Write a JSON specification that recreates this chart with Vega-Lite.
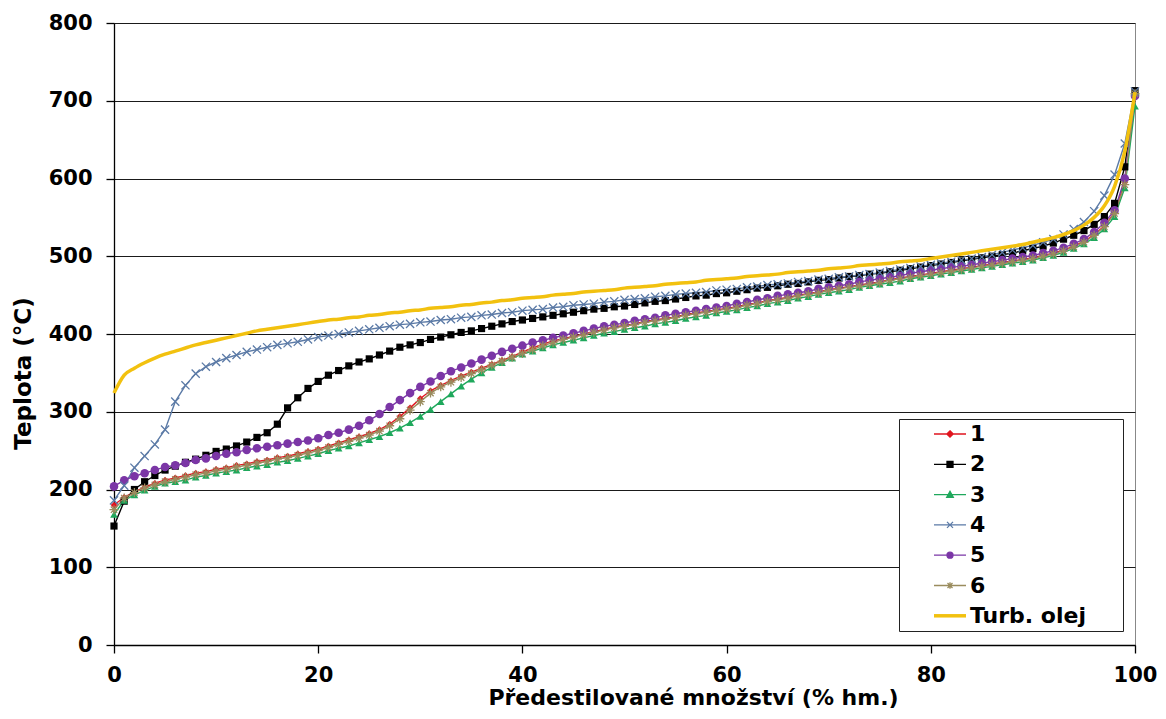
{
"$schema": "https://vega.github.io/schema/vega-lite/v6.json",
"width": 1021,
"height": 622,
"autosize": {"type": "none"},
"padding": {"left": 114, "top": 23, "right": 31, "bottom": 74},
"background": "#ffffff",
"data": {"values": [
{"x":0,"1":180,"2":153,"3":168,"4":186,"5":204,"6":174,"T":324},
{"x":1,"1":190,"2":185,"3":186,"4":205,"5":212,"6":189,"T":347},
{"x":2,"1":197,"2":200,"3":193,"4":228,"5":217,"6":196,"T":356},
{"x":3,"1":203,"2":210,"3":199,"4":243,"5":221,"6":202,"T":363},
{"x":4,"1":208,"2":218,"3":204,"4":258,"5":225,"6":206,"T":369},
{"x":5,"1":212,"2":225,"3":208,"4":277,"5":229,"6":210,"T":374},
{"x":6,"1":215,"2":230,"3":210,"4":313,"5":231,"6":213,"T":378},
{"x":7,"1":218,"2":235,"3":212,"4":334,"5":234,"6":216,"T":382},
{"x":8,"1":221,"2":239,"3":216,"4":349,"5":238,"6":219,"T":386},
{"x":9,"1":223,"2":244,"3":218,"4":358,"5":240,"6":221,"T":389},
{"x":10,"1":226,"2":249,"3":221,"4":364,"5":243,"6":224,"T":392},
{"x":11,"1":228,"2":252,"3":223,"4":369,"5":246,"6":226,"T":395},
{"x":12,"1":231,"2":256,"3":225,"4":373,"5":248,"6":229,"T":398},
{"x":13,"1":233,"2":261,"3":228,"4":377,"5":251,"6":231,"T":401},
{"x":14,"1":236,"2":267,"3":230,"4":380,"5":253,"6":234,"T":404},
{"x":15,"1":238,"2":273,"3":232,"4":383,"5":255,"6":236,"T":406},
{"x":16,"1":241,"2":284,"3":235,"4":386,"5":257,"6":239,"T":408},
{"x":17,"1":243,"2":305,"3":237,"4":388,"5":259,"6":241,"T":410},
{"x":18,"1":246,"2":318,"3":240,"4":390,"5":261,"6":244,"T":412},
{"x":19,"1":249,"2":330,"3":243,"4":393,"5":263,"6":247,"T":414},
{"x":20,"1":252,"2":339,"3":246,"4":396,"5":266,"6":250,"T":416},
{"x":21,"1":256,"2":347,"3":250,"4":398,"5":270,"6":254,"T":418},
{"x":22,"1":260,"2":353,"3":253,"4":400,"5":273,"6":258,"T":419},
{"x":23,"1":264,"2":359,"3":256,"4":402,"5":277,"6":262,"T":421},
{"x":24,"1":268,"2":364,"3":260,"4":404,"5":282,"6":266,"T":422},
{"x":25,"1":272,"2":368,"3":264,"4":406,"5":289,"6":270,"T":424},
{"x":26,"1":277,"2":373,"3":268,"4":408,"5":297,"6":275,"T":425},
{"x":27,"1":284,"2":378,"3":273,"4":410,"5":306,"6":282,"T":427},
{"x":28,"1":294,"2":383,"3":279,"4":412,"5":315,"6":291,"T":428},
{"x":29,"1":305,"2":386,"3":286,"4":413,"5":324,"6":302,"T":430},
{"x":30,"1":317,"2":389,"3":294,"4":415,"5":332,"6":313,"T":431},
{"x":31,"1":327,"2":393,"3":303,"4":416,"5":339,"6":324,"T":433},
{"x":32,"1":334,"2":396,"3":313,"4":418,"5":346,"6":332,"T":434},
{"x":33,"1":340,"2":399,"3":323,"4":419,"5":352,"6":338,"T":435},
{"x":34,"1":346,"2":402,"3":333,"4":421,"5":357,"6":344,"T":437},
{"x":35,"1":351,"2":404,"3":342,"4":422,"5":362,"6":349,"T":438},
{"x":36,"1":356,"2":407,"3":350,"4":424,"5":367,"6":354,"T":440},
{"x":37,"1":361,"2":410,"3":357,"4":425,"5":372,"6":360,"T":441},
{"x":38,"1":366,"2":413,"3":363,"4":427,"5":377,"6":365,"T":443},
{"x":39,"1":371,"2":416,"3":369,"4":428,"5":381,"6":370,"T":444},
{"x":40,"1":377,"2":418,"3":374,"4":430,"5":385,"6":375,"T":446},
{"x":41,"1":382,"2":420,"3":378,"4":431,"5":389,"6":380,"T":447},
{"x":42,"1":387,"2":422,"3":382,"4":432,"5":392,"6":385,"T":448},
{"x":43,"1":391,"2":424,"3":386,"4":434,"5":395,"6":389,"T":450},
{"x":44,"1":394,"2":426,"3":389,"4":435,"5":398,"6":393,"T":451},
{"x":45,"1":397,"2":428,"3":392,"4":437,"5":401,"6":396,"T":452},
{"x":46,"1":400,"2":430,"3":395,"4":438,"5":404,"6":399,"T":454},
{"x":47,"1":403,"2":432,"3":398,"4":439,"5":407,"6":402,"T":455},
{"x":48,"1":406,"2":433,"3":401,"4":441,"5":410,"6":405,"T":456},
{"x":49,"1":409,"2":435,"3":403,"4":442,"5":412,"6":408,"T":457},
{"x":50,"1":411,"2":436,"3":406,"4":444,"5":414,"6":410,"T":459},
{"x":51,"1":413,"2":438,"3":408,"4":445,"5":417,"6":412,"T":460},
{"x":52,"1":416,"2":440,"3":410,"4":446,"5":419,"6":415,"T":461},
{"x":53,"1":418,"2":442,"3":413,"4":448,"5":421,"6":417,"T":462},
{"x":54,"1":420,"2":443,"3":415,"4":449,"5":424,"6":419,"T":464},
{"x":55,"1":422,"2":445,"3":417,"4":451,"5":426,"6":421,"T":465},
{"x":56,"1":425,"2":447,"3":420,"4":452,"5":428,"6":424,"T":466},
{"x":57,"1":427,"2":449,"3":422,"4":453,"5":430,"6":426,"T":467},
{"x":58,"1":429,"2":450,"3":424,"4":454,"5":432,"6":428,"T":469},
{"x":59,"1":431,"2":452,"3":427,"4":456,"5":434,"6":430,"T":470},
{"x":60,"1":433,"2":453,"3":429,"4":457,"5":436,"6":432,"T":471},
{"x":61,"1":435,"2":455,"3":431,"4":458,"5":439,"6":434,"T":472},
{"x":62,"1":438,"2":457,"3":434,"4":460,"5":441,"6":437,"T":474},
{"x":63,"1":440,"2":459,"3":436,"4":461,"5":444,"6":439,"T":475},
{"x":64,"1":443,"2":460,"3":439,"4":463,"5":446,"6":442,"T":476},
{"x":65,"1":445,"2":462,"3":441,"4":464,"5":449,"6":444,"T":477},
{"x":66,"1":447,"2":464,"3":443,"4":465,"5":451,"6":446,"T":479},
{"x":67,"1":450,"2":465,"3":446,"4":467,"5":453,"6":449,"T":480},
{"x":68,"1":452,"2":467,"3":448,"4":468,"5":455,"6":451,"T":481},
{"x":69,"1":454,"2":469,"3":451,"4":470,"5":458,"6":453,"T":482},
{"x":70,"1":457,"2":470,"3":453,"4":471,"5":460,"6":456,"T":484},
{"x":71,"1":459,"2":472,"3":455,"4":473,"5":462,"6":458,"T":485},
{"x":72,"1":461,"2":474,"3":457,"4":474,"5":464,"6":460,"T":486},
{"x":73,"1":463,"2":475,"3":460,"4":476,"5":467,"6":462,"T":488},
{"x":74,"1":465,"2":477,"3":462,"4":477,"5":469,"6":464,"T":489},
{"x":75,"1":467,"2":478,"3":464,"4":479,"5":471,"6":466,"T":490},
{"x":76,"1":470,"2":480,"3":466,"4":481,"5":473,"6":469,"T":491},
{"x":77,"1":472,"2":482,"3":468,"4":483,"5":475,"6":471,"T":493},
{"x":78,"1":474,"2":484,"3":471,"4":485,"5":478,"6":473,"T":494},
{"x":79,"1":476,"2":486,"3":473,"4":487,"5":480,"6":475,"T":495},
{"x":80,"1":478,"2":488,"3":475,"4":489,"5":482,"6":477,"T":497},
{"x":81,"1":480,"2":490,"3":477,"4":491,"5":484,"6":479,"T":499},
{"x":82,"1":482,"2":492,"3":479,"4":493,"5":486,"6":481,"T":501},
{"x":83,"1":484,"2":494,"3":481,"4":495,"5":487,"6":483,"T":503},
{"x":84,"1":486,"2":496,"3":483,"4":497,"5":489,"6":485,"T":505},
{"x":85,"1":488,"2":498,"3":485,"4":499,"5":491,"6":487,"T":507},
{"x":86,"1":490,"2":500,"3":487,"4":502,"5":493,"6":489,"T":509},
{"x":87,"1":492,"2":502,"3":489,"4":505,"5":495,"6":491,"T":511},
{"x":88,"1":494,"2":504,"3":491,"4":508,"5":497,"6":493,"T":513},
{"x":89,"1":496,"2":507,"3":493,"4":511,"5":499,"6":495,"T":515},
{"x":90,"1":498,"2":510,"3":495,"4":514,"5":501,"6":497,"T":518},
{"x":91,"1":501,"2":513,"3":498,"4":518,"5":504,"6":500,"T":521},
{"x":92,"1":504,"2":517,"3":501,"4":522,"5":507,"6":503,"T":524},
{"x":93,"1":508,"2":522,"3":505,"4":528,"5":511,"6":507,"T":528},
{"x":94,"1":513,"2":527,"3":510,"4":535,"5":516,"6":512,"T":533},
{"x":95,"1":519,"2":533,"3":516,"4":544,"5":522,"6":518,"T":540},
{"x":96,"1":528,"2":541,"3":524,"4":558,"5":531,"6":527,"T":550},
{"x":97,"1":539,"2":551,"3":535,"4":578,"5":543,"6":538,"T":565},
{"x":98,"1":556,"2":568,"3":551,"4":605,"5":559,"6":555,"T":590},
{"x":99,"1":595,"2":615,"3":588,"4":645,"5":600,"6":592,"T":635},
{"x":100,"1":708,"2":713,"3":693,"4":712,"5":706,"6":709,"T":711}
]},
"transform": [{"fold": ["1","2","3","4","5","6","T"], "as": ["s", "y"]}],
"encoding": {
  "x": {"field": "x", "type": "quantitative",
        "scale": {"domain": [0, 100], "nice": false, "zero": false},
        "axis": {"values": [0,20,40,60,80,100], "grid": false, "tickSize": 8, "labelPadding": 11, "labelFlush": false,
                 "title": "Předestilované množství (% hm.)", "titlePadding": 2, "titleX": 579, "titleAnchor": "start", "titleAlign": "center"}},
  "y": {"field": "y", "type": "quantitative",
        "scale": {"domain": [0, 800], "nice": false},
        "axis": {"values": [0,100,200,300,400,500,600,700,800], "grid": true, "tickSize": 8, "labelPadding": 14, "labelFlush": false,
                 "title": "Teplota (°C)", "titlePadding": 13, "titleFontSize": 23, "titleY": 350, "titleAlign": "center"}}
},
"layer": [
  {
    "transform": [{"filter": "datum.s != 'T'"}],
    "mark": {"type": "line", "strokeWidth": 1.4},
    "encoding": {
      "color": {"field": "s", "type": "nominal",
        "scale": {"domain": ["1","2","3","4","5","6","T"], "range": ["#e0151f","#000000","#1fa85c","#5b7aa6","#7b36a6","#9a8c5e","#f2c10f"]},
        "legend": {
          "orient": "none", "legendX": 785, "legendY": 396, "title": null,
          "padding": 4, "fillColor": "#ffffff", "strokeColor": "#222222",
          "symbolSize": 400, "symbolOffset": 36, "labelOffset": 9, "rowPadding": 8.3,
          "labelFont": "DejaVu Sans", "labelFontWeight": "bold", "labelFontSize": 22, "labelColor": "#000000", "labelLimit": 400,
          "labelExpr": "datum.label == 'T' ? 'Turb. olej\u00a0\u00a0\u2800' : datum.label",
          "encode": {"symbols": {"update": {
            "shape": {"signal": "datum.value == '1' ? 'M-1.6,0H1.6M0,-0.32L0.32,0L0,0.32L-0.32,0Z' : datum.value == '2' ? 'M-1.6,0H1.6M-0.3,-0.3H0.3V0.3H-0.3Z' : datum.value == '3' ? 'M-1.6,0H1.6M0,-0.33L0.33,0.27H-0.33Z' : datum.value == '4' ? 'M-1.6,0H1.6M-0.3,-0.3L0.3,0.3M-0.3,0.3L0.3,-0.3' : datum.value == '5' ? 'M-1.6,0H1.6M-0.3,0A0.3,0.3 0 1,0 0.3,0A0.3,0.3 0 1,0 -0.3,0Z' : datum.value == '6' ? 'M-1.6,0H1.6M0,-0.32V0.32M-0.25,-0.25L0.25,0.25M-0.25,0.25L0.25,-0.25' : 'M-1.6,0H1.6'"},
            "fill": {"scale": "color", "field": "value"},
            "stroke": {"scale": "color", "field": "value"},
            "strokeWidth": {"signal": "datum.value == 'T' ? 3.5 : 1.3"},
            "opacity": {"value": 1}
          }}}
        }},
      "detail": {"field": "s"}
    }
  },
  {
    "transform": [{"filter": "indexof(['1','2','3','5'], datum.s) >= 0"}],
    "mark": {"type": "point", "filled": true, "opacity": 1},
    "encoding": {
      "color": {"field": "s", "type": "nominal", "legend": null},
      "shape": {"field": "s", "type": "nominal",
        "scale": {"domain": ["1","2","3","4","5","6"], "range": ["diamond","square","triangle-up","M-1,-1L1,1M-1,1L1,-1","circle","M-1,0H1M0,-1V1M-0.7,-0.7L0.7,0.7M-0.7,0.7L0.7,-0.7"]},
        "legend": null},
      "size": {"field": "s", "type": "nominal",
        "scale": {"domain": ["1","2","3","4","5","6"], "range": [44, 81, 70, 72, 80, 72]},
        "legend": null}
    }
  },
  {
    "transform": [{"filter": "indexof(['4','6'], datum.s) >= 0"}],
    "mark": {"type": "point", "filled": false, "opacity": 1, "strokeWidth": 1.3},
    "encoding": {
      "color": {"field": "s", "type": "nominal", "legend": null},
      "shape": {"field": "s", "type": "nominal", "legend": null},
      "size": {"field": "s", "type": "nominal", "legend": null}
    }
  },
  {
    "transform": [{"filter": "datum.s == 'T'"}],
    "mark": {"type": "line", "strokeWidth": 3.5, "interpolate": "monotone"},
    "encoding": {
      "color": {"field": "s", "type": "nominal", "legend": null}
    }
  }
],
"config": {
  "font": "DejaVu Sans",
  "view": {"stroke": "#888888", "strokeWidth": 1},
  "axis": {
    "labelFont": "DejaVu Sans", "labelFontWeight": "bold", "labelFontSize": 21, "labelColor": "#000000",
    "titleFont": "DejaVu Sans", "titleFontWeight": "bold", "titleFontSize": 22, "titleColor": "#000000",
    "domainColor": "#000000", "domainWidth": 1.3, "tickColor": "#000000", "tickWidth": 1.3,
    "gridColor": "#1a1a1a", "gridWidth": 1, "gridOpacity": 1
  }
}
}
